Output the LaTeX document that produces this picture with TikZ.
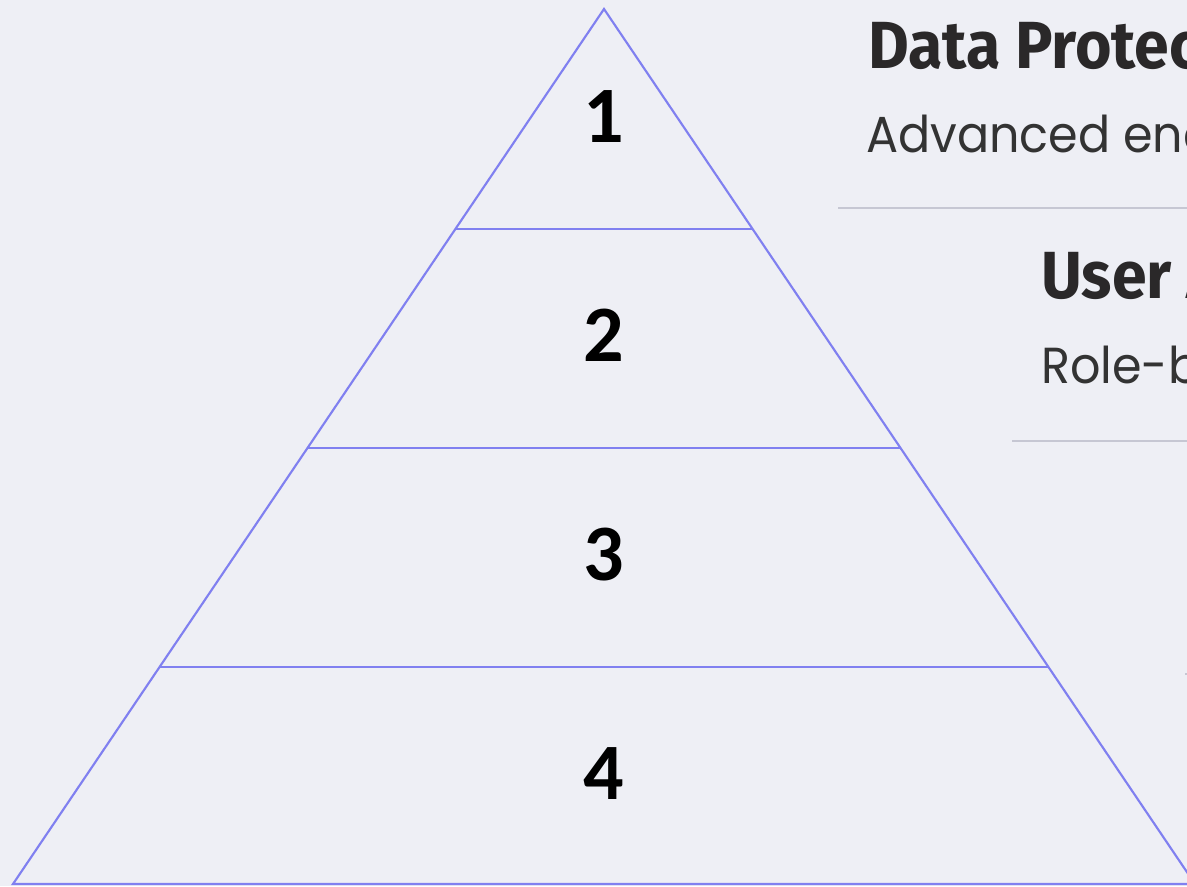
\documentclass[tikz,border=0pt]{standalone}
\usepackage{fontspec}
\setmainfont[FakeStretch=0.94]{Poppins}
\newfontfamily\titlefont[FakeStretch=0.94]{Fira Sans}
\newfontfamily\numfont{Carlito}
\usepackage{xcolor}
\usetikzlibrary{positioning,calc}

\definecolor{bgcol}{HTML}{EEEFF5}
\definecolor{pyrline}{HTML}{8080F0}
\definecolor{seprule}{HTML}{C6C7D3}
\definecolor{titlecol}{HTML}{2A2829}
\definecolor{desccol}{HTML}{333333}

\begin{document}
\begin{tikzpicture}[
  x=0.75pt,y=-0.75pt,
  pyr/.style={draw=pyrline,line width=1.6pt,line join=miter},
  levelnum/.style={anchor=base,inner sep=0pt,font=\numfont\bfseries\fontsize{60}{60}\selectfont},
  ttl/.style={anchor=base west,inner sep=0pt,text=titlecol,font=\titlefont\bfseries\fontsize{50}{50}\selectfont},
  desc/.style={anchor=base west,inner sep=0pt,text=desccol,font=\fontsize{38}{38}\selectfont},
  sep/.style={draw=seprule,line width=1.5pt}
]
  \fill[bgcol] (0,0) rectangle (1187,886);
  \useasboundingbox (0,0) rectangle (1187,886);
  \clip (0,0) rectangle (1187,886);

  % pyramid outline
  \coordinate (apex) at (604,9);
  \coordinate (bl) at (13,884);
  \coordinate (br) at (1195,884);
  \draw[pyr] (bl) -- (apex) -- (br) -- cycle;

  % level lines and numbers
  \foreach \y in {229,448,667}{
    \draw[pyr] ($(apex)!{(\y-9)/875}!(bl)$) -- ($(apex)!{(\y-9)/875}!(br)$);
  }
  \node[levelnum] (n1) at (604,142) {1};
  \node[levelnum] (n2) at (604,361) {2};
  \node[levelnum] (n3) at (604,580) {3};
  \node[levelnum] (n4) at (604,799) {4};

  % text list on the right
  \node[ttl] (t1) at (868,68) {Data Protection};
  \node[desc] (d1) at (866,152) {Advanced encryption};
  \draw[sep] (838,208) -- (1187,208);

  \node[ttl] (t2) at (1041,298) {User Access};
  \node[desc] (d2) at (1041,383) {Role-based access};
  \draw[sep] (1012,441) -- (1187,441);

  \draw[sep] (1185,674) -- (1187,674);
\end{tikzpicture}
\end{document}
